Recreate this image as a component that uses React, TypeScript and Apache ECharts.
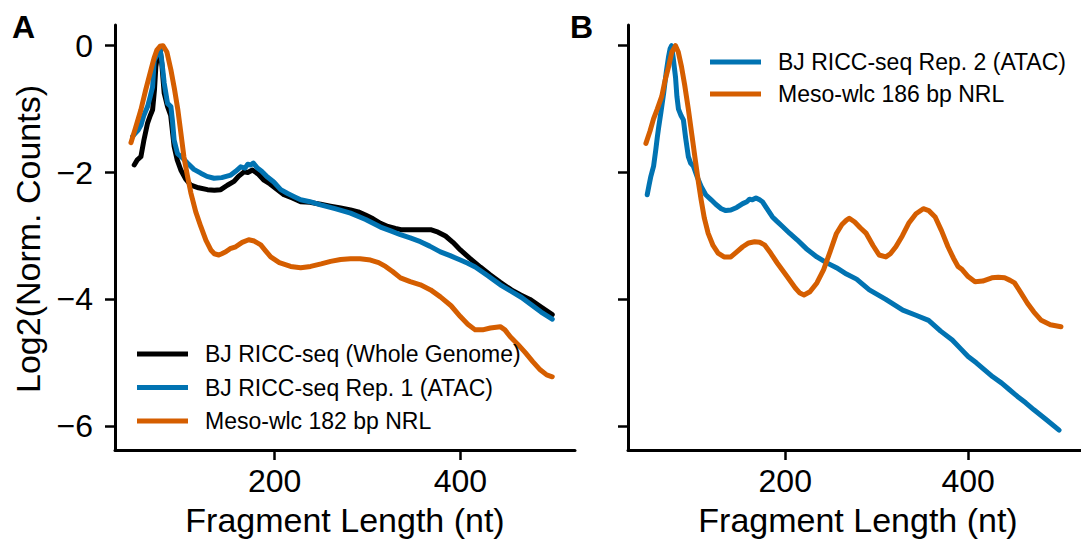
import React, { useEffect, useRef } from "react";
import * as echarts from "echarts";

const FONT = '"Liberation Sans", Arial, Helvetica, sans-serif';

const xTicks = [200, 400];
const yTicks = [-6, -4, -2, 0];
const X_MIN = 28;
const X_MAX = 523.5;
const Y_MIN = -6.374;
const Y_MAX = 0.326;

const seriesNamesA = [
  "BJ RICC-seq (Whole Genome)",
  "BJ RICC-seq Rep. 1 (ATAC)",
  "Meso-wlc 182 bp NRL",
];
const seriesNamesB = ["BJ RICC-seq Rep. 2 (ATAC)", "Meso-wlc 186 bp NRL"];

const BLACK = "#000000";
const BLUE = "#0173B2";
const ORANGE = "#D55E00";

// Panel A
const wholeGenomeA = [
  [48.7, -1.88], [52, -1.8], [55.9, -1.75], [59, -1.5], [63.1, -1.22], [66, -1.1], [68.5, -1.01],
  [70.5, -0.7], [72, -0.33], [74, -0.15], [76.7, -0.07], [78.5, -0.3], [81, -0.75], [84.6, -0.96],
  [88, -1.1], [91.7, -1.59], [95, -1.8], [98.9, -1.96], [104, -2.1], [109.7, -2.2], [118, -2.24],
  [127.6, -2.27], [135, -2.28], [141.9, -2.27], [149, -2.2], [156.2, -2.14], [161, -2.06],
  [167, -1.99], [171, -2.0], [176, -1.96], [182, -2.02], [188.5, -2.12], [195, -2.18],
  [202, -2.26], [210, -2.35], [219, -2.4], [228, -2.46], [238, -2.47], [249.5, -2.5],
  [260, -2.53], [271, -2.56], [281.7, -2.59], [290, -2.62], [297.8, -2.67], [306, -2.73],
  [314, -2.8], [322, -2.85], [330, -2.88], [336, -2.9], [346, -2.9], [357, -2.9], [368, -2.9],
  [376, -2.94], [384, -3.0], [392, -3.1], [400, -3.22], [410, -3.35], [421.5, -3.49],
  [432, -3.61], [443, -3.73], [455, -3.85], [465, -3.93], [475, -4.0], [487, -4.12], [499, -4.24],
];

const rep1A = [
  [47, -1.43], [50, -1.38], [53, -1.33], [56, -1.25], [59, -1.1], [63.1, -0.96], [66, -0.8],
  [68.5, -0.65], [70.2, -0.23], [72, -0.18], [73.8, -0.12], [76.7, -0.07], [78.5, -0.25],
  [81, -0.59], [84.6, -0.91], [88.2, -0.96], [90, -1.2], [91.7, -1.49], [95.3, -1.7],
  [100, -1.76], [106, -1.85], [113, -1.95], [120.4, -2.01], [127, -2.06], [134.7, -2.09],
  [143, -2.08], [152.7, -2.04], [158, -1.98], [163.4, -1.91], [168, -1.93], [171, -1.87],
  [174.2, -1.88], [177, -1.85], [181.4, -1.93], [186, -1.98], [192.2, -2.07], [199, -2.15],
  [206.5, -2.27], [214, -2.33], [221, -2.38], [228, -2.43], [238, -2.46], [249.5, -2.51],
  [265, -2.57], [281.7, -2.64], [298, -2.74], [314, -2.86], [325, -2.92], [335.5, -2.98],
  [346, -3.03], [357, -3.09], [367, -3.16], [378.5, -3.25], [389, -3.31], [400, -3.38],
  [408, -3.43], [416, -3.49], [430, -3.63], [443, -3.77], [458, -3.9], [466, -3.97],
  [475, -4.07], [487, -4.2], [499, -4.31],
];

const meso182A = [
  [45.2, -1.53], [50, -1.3], [55.9, -1.01], [61, -0.7], [66.7, -0.38], [70, -0.2], [73.1, -0.07],
  [76.5, -0.01], [79.6, 0], [83.9, -0.1], [88.2, -0.38], [92, -0.68], [95.7, -1.01],
  [99, -1.38], [102.2, -1.75], [106, -2.05], [109.7, -2.32], [115, -2.62], [120.4, -2.85],
  [126, -3.07], [131.2, -3.22], [135, -3.28], [139.8, -3.3], [143, -3.28], [147.3, -3.25],
  [152, -3.2], [158, -3.17], [165, -3.1], [172, -3.06], [178, -3.08], [185, -3.14],
  [190, -3.23], [195.7, -3.33], [205, -3.42], [217.2, -3.48], [228, -3.5], [238.7, -3.48],
  [250, -3.44], [260.2, -3.4], [271, -3.37], [281.7, -3.36], [292, -3.36], [303.2, -3.38],
  [312, -3.42], [319.4, -3.48], [327, -3.56], [335.5, -3.66], [346, -3.72], [357, -3.77],
  [368, -3.85], [378.5, -3.96], [390, -4.1], [400, -4.27], [408, -4.39], [416, -4.48],
  [424, -4.48], [432.3, -4.45], [443, -4.43], [448, -4.48], [453.8, -4.59], [462, -4.71],
  [470, -4.84], [478, -4.98], [486, -5.11], [493, -5.19], [499, -5.22],
];

// Panel B
const rep2B = [
  [49, -2.35], [51, -2.2], [53, -2.06], [56, -1.9], [58.4, -1.64], [60, -1.45], [61.6, -1.28],
  [64, -1.05], [67, -0.75], [70, -0.4], [72.4, -0.17], [74, -0.05], [75.7, 0], [77.5, -0.2],
  [80, -0.5], [81.5, -0.8], [83.2, -1.0], [86, -1.1], [88.6, -1.17], [91, -1.45], [94, -1.75],
  [96.5, -1.85], [99.5, -1.9], [104, -2.08], [108, -2.22], [113, -2.35], [119, -2.43],
  [124, -2.5], [130, -2.57], [135, -2.6], [140.5, -2.59], [147, -2.55], [153.5, -2.49],
  [158, -2.46], [161, -2.42], [164, -2.43], [168, -2.4], [172, -2.43], [175, -2.46],
  [180, -2.57], [186, -2.7], [191, -2.77], [197, -2.85], [205, -2.96], [213, -3.06],
  [223, -3.2], [234.6, -3.33], [245, -3.42], [256, -3.5], [267, -3.6], [278, -3.68],
  [292, -3.85], [310, -4.0], [328.6, -4.17], [343, -4.25], [356.8, -4.33], [370, -4.5],
  [382.7, -4.64], [392, -4.78], [400, -4.9], [409, -5.0], [418, -5.11], [427, -5.22],
  [436.8, -5.32], [445, -5.42], [454, -5.53], [463, -5.63], [472, -5.74], [486, -5.9],
  [499.5, -6.06],
];

const meso186B = [
  [47.6, -1.54], [52, -1.35], [56, -1.15], [60, -1.0], [64.9, -0.8], [68.5, -0.55], [72.4, -0.33],
  [76, -0.1], [80, 0], [83, -0.1], [86.5, -0.33], [90, -0.62], [94, -1.0], [98, -1.42],
  [101.6, -1.8], [105, -2.15], [108, -2.43], [111.5, -2.72], [115.7, -2.96], [121, -3.15],
  [126.5, -3.27], [133, -3.33], [140.5, -3.33], [147, -3.25], [153.5, -3.17], [160, -3.11],
  [166.5, -3.09], [172, -3.1], [177.3, -3.14], [184, -3.27], [191.4, -3.43], [202, -3.64],
  [211, -3.82], [216, -3.9], [220.5, -3.93], [227, -3.88], [234.6, -3.74], [242, -3.53],
  [249, -3.25], [256, -2.96], [262, -2.82], [267, -2.75], [270, -2.72], [276, -2.78],
  [282, -2.87], [288.6, -2.96], [296, -3.15], [302.7, -3.3], [310, -3.33], [315, -3.28],
  [321, -3.17], [328, -3.0], [335, -2.8], [343, -2.65], [351, -2.57], [357, -2.6], [364, -2.7],
  [371, -2.92], [378, -3.17], [384, -3.35], [389, -3.48], [393.5, -3.53], [400, -3.64],
  [407.6, -3.72], [416, -3.71], [426, -3.66], [433, -3.65], [440, -3.66], [446, -3.7],
  [450.8, -3.74], [458, -3.9], [464.9, -4.06], [472, -4.2], [480, -4.33], [490, -4.4],
  [501.6, -4.43],
];

const fmtY = (v: number) => (v < 0 ? "\u2212" + Math.abs(v) : String(v));

function makeX(gridIndex: number) {
  return {
    type: "value",
    gridIndex,
    min: X_MIN,
    max: X_MAX,
    axisLine: { show: true, onZero: false, lineStyle: { color: "#000", width: 3 } },
    axisTick: {
      show: true,
      customValues: xTicks,
      length: 10,
      lineStyle: { color: "#000", width: 2.5 },
    },
    axisLabel: {
      show: true,
      customValues: xTicks,
      fontSize: 32,
      color: "#000",
      fontFamily: FONT,
      margin: 15,
    },
    splitLine: { show: false },
  };
}

function makeY(gridIndex: number, showLabels: boolean) {
  return {
    type: "value",
    gridIndex,
    min: Y_MIN,
    max: Y_MAX,
    axisLine: { show: true, onZero: false, lineStyle: { color: "#000", width: 3 } },
    axisTick: {
      show: true,
      customValues: yTicks,
      length: 10,
      lineStyle: { color: "#000", width: 2.5 },
    },
    axisLabel: {
      show: showLabels,
      customValues: yTicks,
      fontSize: 32,
      color: "#000",
      fontFamily: FONT,
      margin: 22,
      formatter: fmtY,
    },
    splitLine: { show: false },
  };
}

function makeLine(name: string, data: number[][], color: string, idx: number) {
  return {
    type: "line",
    name,
    data,
    xAxisIndex: idx,
    yAxisIndex: idx,
    showSymbol: false,
    symbol: "none",
    smooth: false,
    lineStyle: { color, width: 5, cap: "round", join: "round" },
    itemStyle: { color },
    emphasis: { disabled: true },
  };
}

const legendText = {
  fontSize: 23,
  color: "#000",
  fontFamily: FONT,
  lineHeight: 24,
  padding: [0, 0, 0, 12],
};

export default function App() {
  const ref = useRef<HTMLDivElement>(null);
  useEffect(() => {
    const chart = echarts.init(ref.current!, undefined, { renderer: "svg" });
    const option = {
      animation: false,
      backgroundColor: "#ffffff",
      grid: [
        { left: 115, top: 25, width: 460, height: 425 },
        { left: 628, top: 25, width: 460, height: 425 },
      ],
      xAxis: [makeX(0), makeX(1)],
      yAxis: [makeY(0, true), makeY(1, false)],
      legend: [
        {
          data: seriesNamesA,
          orient: "vertical",
          left: 132,
          top: 337,
          itemWidth: 51,
          itemHeight: 5,
          itemGap: 9.5,
          icon: "rect",
          selectedMode: false,
          textStyle: legendText,
        },
        {
          data: seriesNamesB,
          orient: "vertical",
          left: 705,
          top: 45,
          itemWidth: 51,
          itemHeight: 5,
          itemGap: 8,
          icon: "rect",
          selectedMode: false,
          textStyle: legendText,
        },
      ],
      series: [
        makeLine(seriesNamesA[0], wholeGenomeA, BLACK, 0),
        makeLine(seriesNamesA[1], rep1A, BLUE, 0),
        makeLine(seriesNamesA[2], meso182A, ORANGE, 0),
        makeLine(seriesNamesB[0], rep2B, BLUE, 1),
        makeLine(seriesNamesB[1], meso186B, ORANGE, 1),
      ],
      graphic: [
        {
          type: "text",
          x: 12,
          y: 26.5,
          style: {
            text: "A",
            fontSize: 32,
            fontWeight: "bold",
            fontFamily: FONT,
            fill: "#000",
            align: "left",
            verticalAlign: "middle",
          },
        },
        {
          type: "text",
          x: 570,
          y: 26.5,
          style: {
            text: "B",
            fontSize: 32,
            fontWeight: "bold",
            fontFamily: FONT,
            fill: "#000",
            align: "left",
            verticalAlign: "middle",
          },
        },
        {
          type: "text",
          x: 28,
          y: 239,
          rotation: Math.PI / 2,
          style: {
            text: "Log2(Norm. Counts)",
            fontSize: 34,
            fontFamily: FONT,
            fill: "#000",
            align: "center",
            verticalAlign: "middle",
          },
        },
        {
          type: "text",
          x: 345,
          y: 520,
          style: {
            text: "Fragment Length (nt)",
            fontSize: 34,
            fontFamily: FONT,
            fill: "#000",
            align: "center",
            verticalAlign: "middle",
          },
        },
        {
          type: "text",
          x: 858,
          y: 520,
          style: {
            text: "Fragment Length (nt)",
            fontSize: 34,
            fontFamily: FONT,
            fill: "#000",
            align: "center",
            verticalAlign: "middle",
          },
        },
      ],
    };
    chart.setOption(option as any);
    return () => chart.dispose();
  }, []);
  return (
    <div
      ref={ref}
      style={{ position: "fixed", left: 0, top: 0, width: 1081, height: 539, background: "#fff" }}
    />
  );
}
